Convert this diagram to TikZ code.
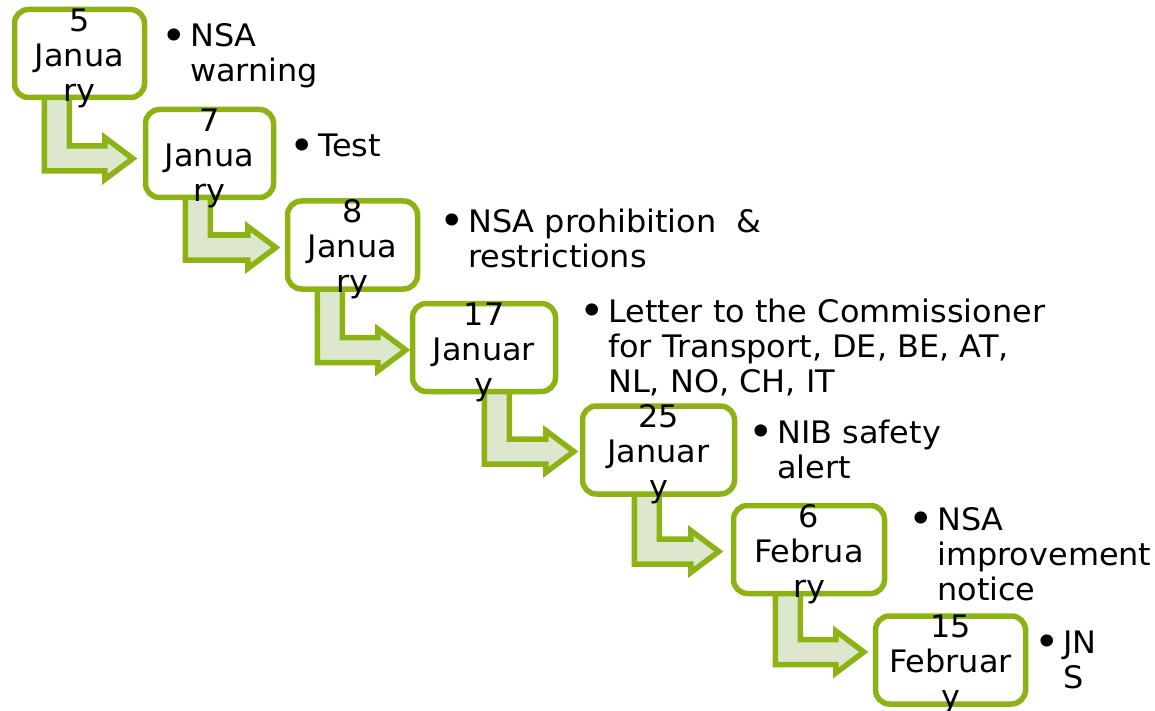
\documentclass[tikz,border=0pt]{standalone}
\usepackage{fontspec}
\setmainfont[FakeStretch=1.03]{DejaVu Sans}
\usetikzlibrary{calc,backgrounds}
\definecolor{stepgreen}{HTML}{8CB214}
\definecolor{stepfill}{HTML}{DDE7CD}
\tikzset{
  datebox/.style={draw=stepgreen, line width=5.5pt, rounded corners=14pt, fill=white, minimum height=88pt, inner sep=0pt},
  datetext/.style={align=center, font=\fontsize{31}{35}\selectfont, inner sep=0pt},
  itemtext/.style={align=left, font=\fontsize{31}{35}\selectfont, inner sep=0pt, anchor=base west},
  steparrow/.style={draw=stepgreen, fill=stepfill, line width=5.5pt},
}
\newcommand{\bul}{\llap{\raisebox{-3.5pt}{\scalebox{1.35}{\textbullet}}\hspace{3.3pt}}}

\begin{document}
\begin{tikzpicture}[x=1pt, y=-1pt]
  \useasboundingbox (0,0) rectangle (1155,711);
  % Date boxes
  \foreach \n/\cx/\cy/\w in {1/79.5/53.5/130, 2/209.5/153.5/128, 3/352.5/245/130, 4/484/347.5/143,
                             5/658.5/450/152, 6/809/549.5/151, 7/950.5/660/150} {
    \node[datebox, minimum width=\w pt] (d\n) at (\cx,\cy) {};
  }
  % Bent arrows from box to box
  \begin{scope}[on background layer]
    \foreach \a/\b/\so/\bo/\tg in {d1/d2/32.5/-5/10, d2/d3/42.5/-2.5/9, d3/d4/32.5/-2.5/4,
                                   d4/d5/74.5/-1.5/6, d5/d6/54.5/-2/12, d6/d7/44.5/8/9} {
      \draw[steparrow] let \p1=([xshift=\so pt]\a.south west), \p2=([xshift=-\tg pt, yshift=\bo pt]\b.west) in
        (\x1,\y1+10pt) -- (\x1,\y2-12.5pt) -- (\x2-28pt,\y2-12.5pt) -- (\x2-28pt,\y2-21pt) -- (\x2,\y2)
        -- (\x2-28pt,\y2+21pt) -- (\x2-28pt,\y2+12.5pt) -- (\x1+25pt,\y2+12.5pt) -- (\x1+25pt,\y1+10pt) -- cycle;
    }
  \end{scope}
  % Dates
  \node[datetext] (t1) at ([yshift=-4.5pt]d1.center) {5\\Janua\\ry};
  \node[datetext] (t2) at ([yshift=-4.5pt]d2.center) {7\\Janua\\ry};
  \node[datetext] (t3) at ([yshift=-4.5pt]d3.center) {8\\Janua\\ry};
  \node[datetext] (t4) at ([yshift=-4.5pt]d4.center) {17\\Januar\\y};
  \node[datetext] (t5) at ([yshift=-4.5pt]d5.center) {25\\Januar\\y};
  \node[datetext] (t6) at ([yshift=-4.5pt]d6.center) {6\\Februa\\ry};
  \node[datetext] (t7) at ([yshift=-4.5pt]d7.center) {15\\Februar\\y};
  % Events (base is the last line)
  \node[itemtext] (n1) at (190,82) {\bul NSA\\warning};
  \node[itemtext] (n2) at (318,157) {\bul Test};
  \node[itemtext] (n3) at (468,267) {\bul NSA prohibition\ \ \&\\restrictions};
  \node[itemtext] (n4) at (608,392) {\bul Letter to the Commissioner\\for Transport, DE, BE, AT,\\NL, NO, CH, IT};
  \node[itemtext] (n5) at (777,478) {\bul NIB safety\\alert};
  \node[itemtext] (n6) at (937,600) {\bul NSA\\improvement\\notice};
  \node[itemtext] (n7) at (1063,688) {\bul JN\\S};
\end{tikzpicture}
\end{document}
